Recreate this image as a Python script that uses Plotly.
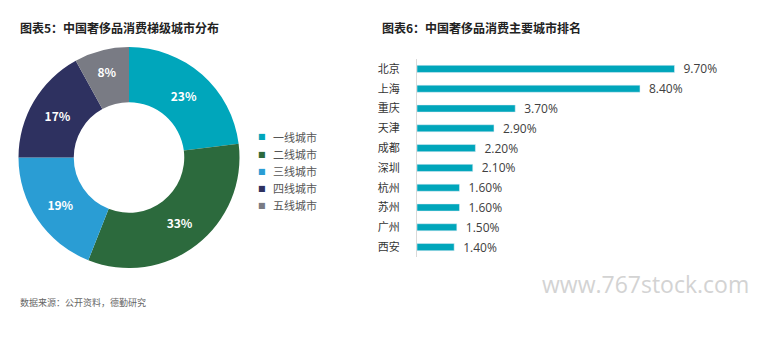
import plotly.graph_objects as go

# Pie data
tiers = ["一线城市", "二线城市", "三线城市", "四线城市", "五线城市"]
tier_share = [23, 33, 19, 17, 8]
tier_colors = ["#00A6BB", "#2C6A3D", "#2A9DD4", "#2E3160", "#797B84"]

# Bar data
cities = ["北京", "上海", "重庆", "天津", "成都", "深圳", "杭州", "苏州", "广州", "西安"]
city_share = [9.70, 8.40, 3.70, 2.90, 2.20, 2.10, 1.60, 1.60, 1.50, 1.40]

W, H = 760, 337
FONT = "Noto Sans CJK SC"

fig = go.Figure()

fig.add_trace(go.Pie(
    labels=tiers, values=tier_share, hole=0.5, sort=False, direction="clockwise",
    rotation=0,
    marker=dict(colors=tier_colors, line=dict(color="white", width=0)),
    texttemplate="<b>%{value}%</b>", textposition="inside", insidetextorientation="horizontal",
    textfont=dict(color="white", size=12, family=FONT),
    domain=dict(x=[18/W, 240/W], y=[1-268/H, 1-47/H]),
    showlegend=False,
))

fig.add_trace(go.Bar(
    y=cities, x=city_share, orientation="h",
    marker=dict(color="#00A6BB"), width=0.36,
    text=[f"\u2002{v:.2f}%" for v in city_share], textposition="outside",
    constraintext="none",
    textfont=dict(color="#404040", size=12, family="Open Sans"),
    cliponaxis=False, showlegend=False,
    xaxis="x", yaxis="y",
))

annotations = [
    dict(text="<b>图表5：中国奢侈品消费梯级城市分布</b>", x=18/W, y=1-28/H, xref="paper", yref="paper",
         xanchor="left", yanchor="middle", showarrow=False,
         font=dict(size=12, color="#222", family=FONT)),
    dict(text="<b>图表6：中国奢侈品消费主要城市排名</b>", x=380/W, y=1-28/H, xref="paper", yref="paper",
         xanchor="left", yanchor="middle", showarrow=False,
         font=dict(size=12, color="#222", family=FONT)),
    dict(text="数据来源：公开资料，德勤研究", x=18/W, y=1-302/H, xref="paper", yref="paper",
         xanchor="left", yanchor="middle", showarrow=False,
         font=dict(size=9, color="#666", family=FONT)),
    dict(text="www.767stock.com", x=540/W, y=1-284/H, xref="paper", yref="paper",
         xanchor="left", yanchor="middle", showarrow=False,
         font=dict(size=23, color="#D3D3D3", family="Open Sans")),
]

# manual legend for the pie
for i, (name, col) in enumerate(zip(tiers, tier_colors)):
    yy = 137 + 17 * i
    annotations.append(dict(
        text=f"<span style='color:{col}'>■</span>", x=256/W, y=1-yy/H,
        xref="paper", yref="paper", xanchor="left", yanchor="middle", showarrow=False,
        font=dict(size=8, family="DejaVu Sans")))
    annotations.append(dict(
        text=name, x=271/W, y=1-yy/H, xref="paper", yref="paper",
        xanchor="left", yanchor="middle", showarrow=False,
        font=dict(size=11, color="#555", family=FONT)))

fig.update_layout(
    width=W, height=H, margin=dict(l=0, r=0, t=0, b=0),
    paper_bgcolor="white", plot_bgcolor="white",
    font=dict(family=FONT, color="#444"),
    xaxis=dict(domain=[417/W, 709/W], range=[0, 11], visible=False),
    yaxis=dict(domain=[1-257/H, 1-59/H], autorange="reversed", showline=True,
               linecolor="#D9D9D9", linewidth=1, ticks="", showgrid=False,
               tickfont=dict(size=11, color="#333", family=FONT), ticklabelstandoff=14),
    showlegend=False,
    annotations=annotations,
)

fig.write_html("out.html")
